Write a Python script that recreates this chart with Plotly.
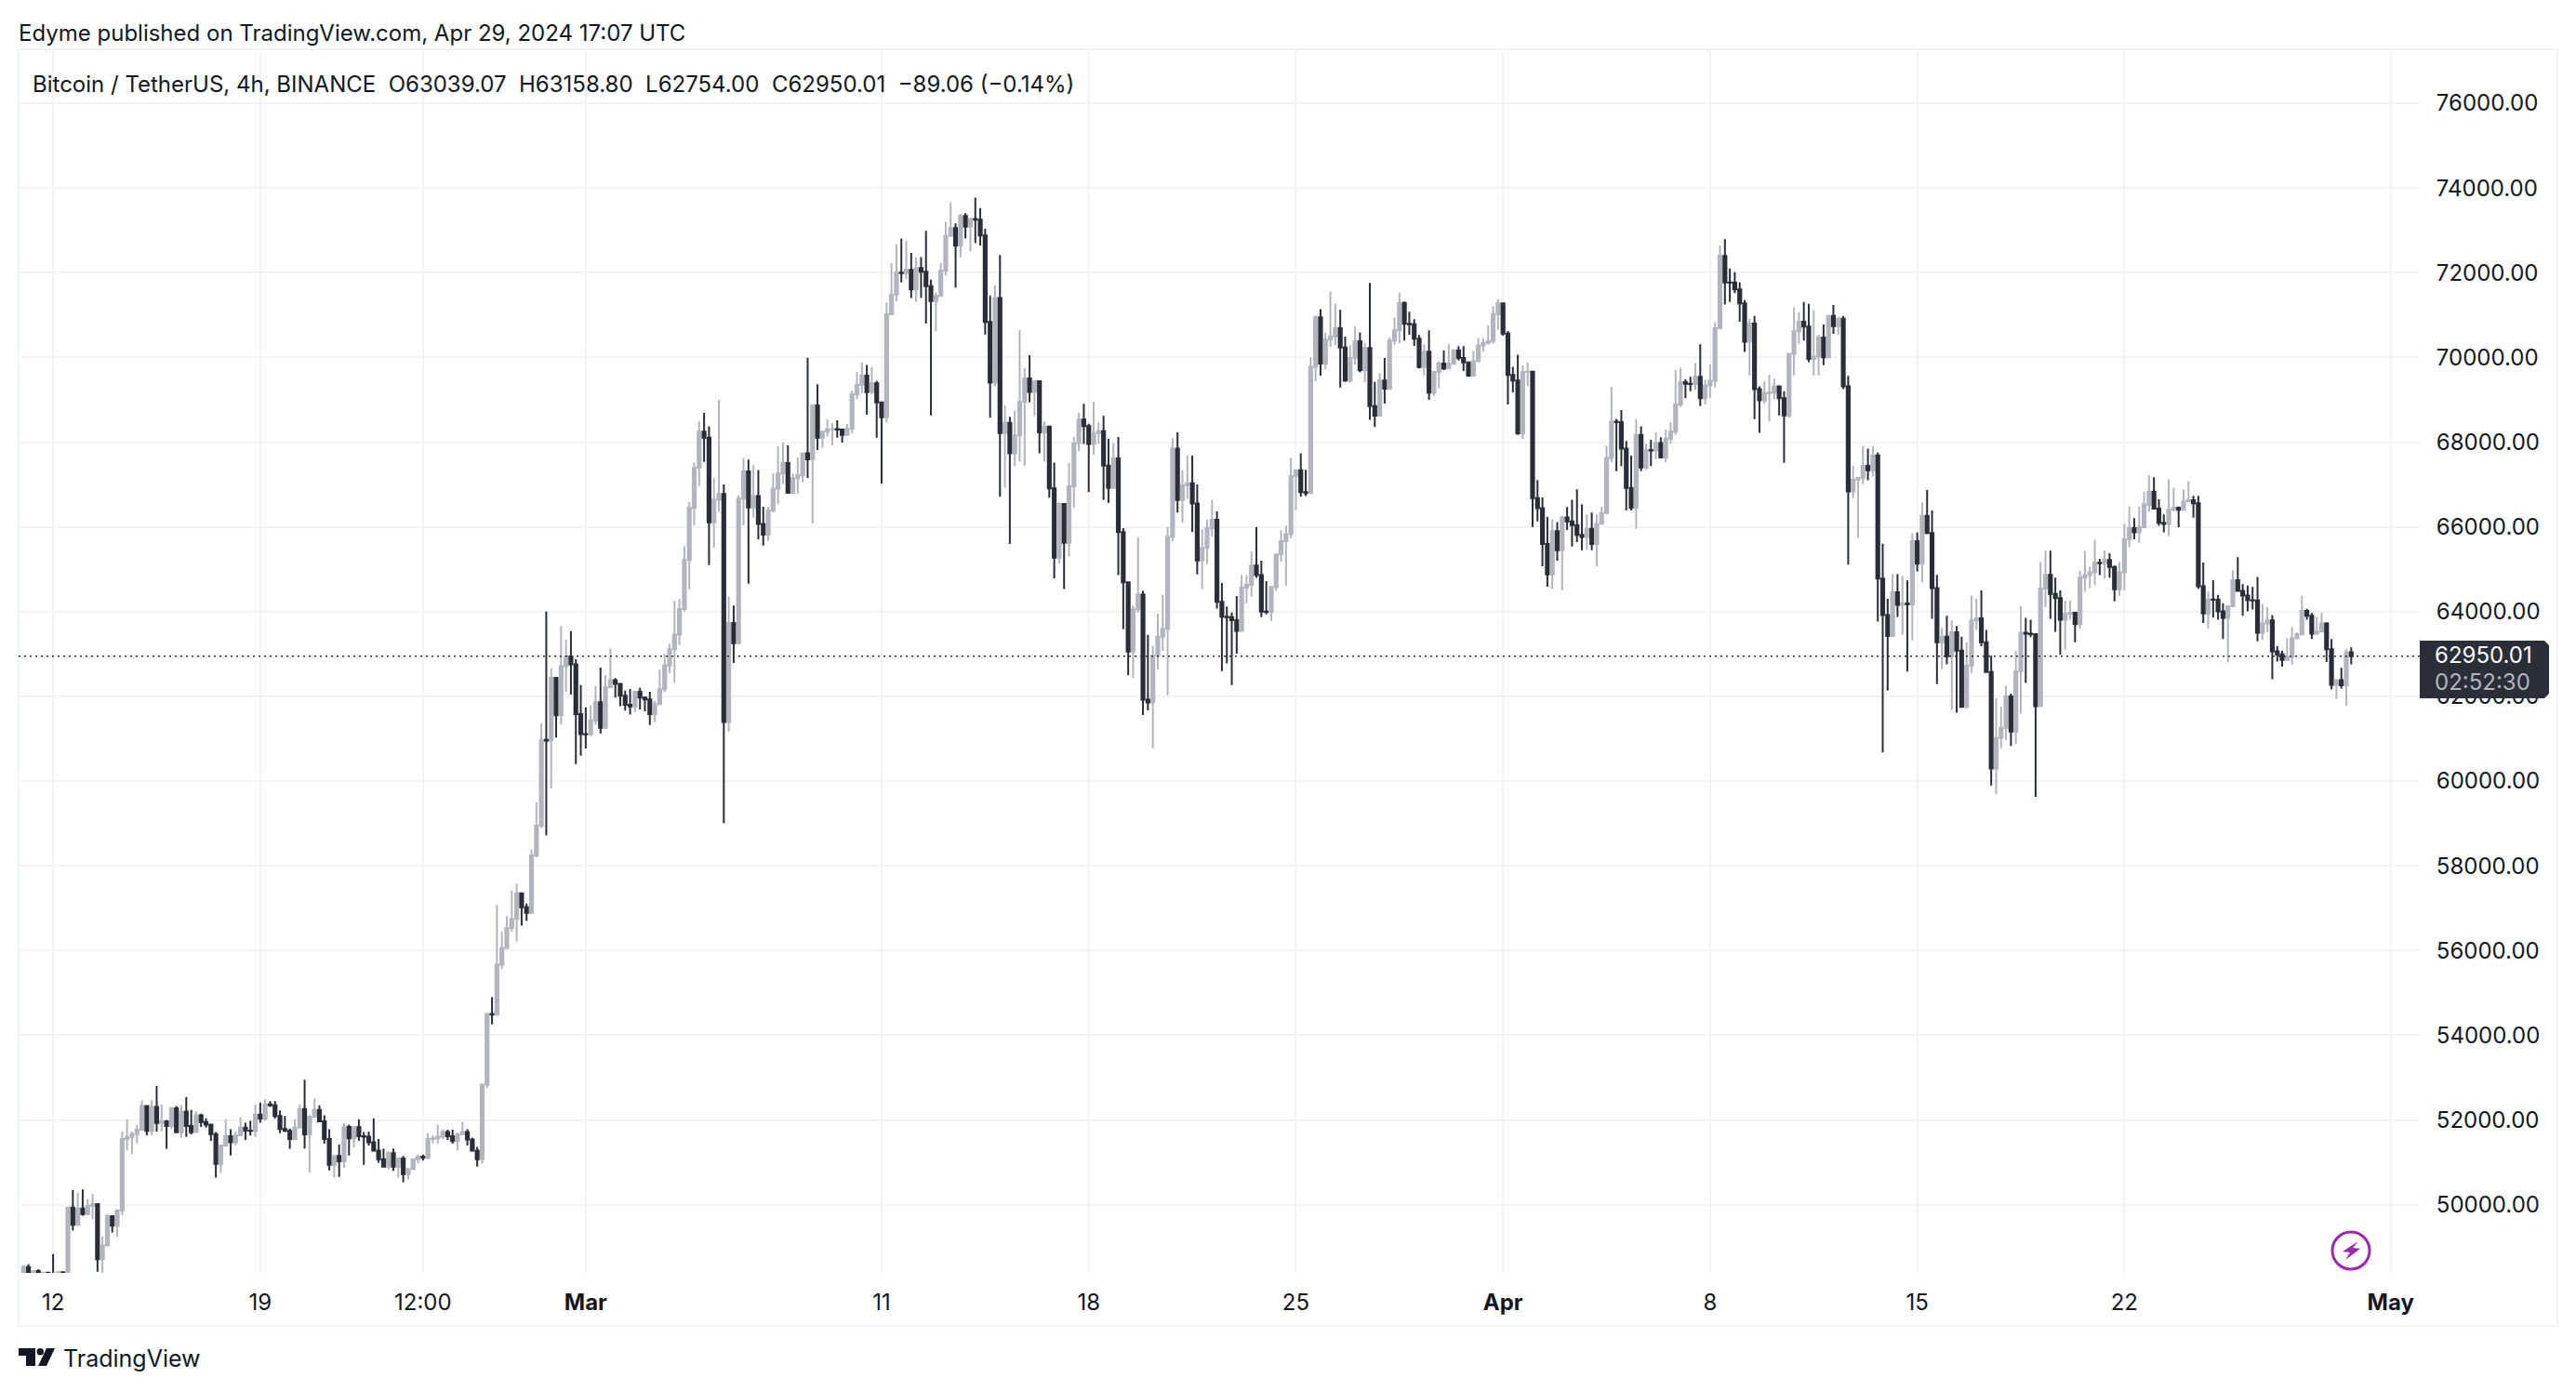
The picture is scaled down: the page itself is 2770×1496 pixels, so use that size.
import pandas as pd
import plotly.graph_objects as go

first_open = 48300
closes = [
48530,48350,48435,48300,48400,48340,48200,48410,48350,49935,
49527,49913,49780,49970,50015,48713,49040,49730,49505,49860,
51550,51600,51670,51770,52330,51745,52310,51930,51970,51860,
52275,51710,52200,51860,51715,52110,51950,51890,51670,50965,
51400,51620,51475,51640,51820,51750,51745,52130,52035,52370,
52350,52095,51790,51745,51550,51820,52260,51660,52080,52240,
51970,51550,50945,51150,51025,51840,51570,51830,51620,51605,
51475,51280,51075,50900,51220,50900,51090,50725,50845,51075,
51135,51115,51550,51570,51605,51715,51620,51510,51660,51715,
51540,51280,51075,52835,54504,54485,55668,56055,56535,56750,
57350,57025,56890,58245,58950,60970,60955,62440,61555,62710,
62940,62755,61580,61110,61105,61435,61860,61260,62220,62385,
62295,62015,61800,61765,62110,61970,61925,61580,61820,62170,
62730,63110,63460,64060,65220,66450,67390,68250,68105,66110,
66640,66780,61397,63730,63253,66670,67310,66460,66730,66070,
65815,66380,66905,67260,67505,66805,67150,67220,67740,67595,
68870,68105,68250,68300,68310,68295,68170,68320,69130,69350,
69570,69180,69390,68940,68590,71020,71485,72000,71990,72065,
71605,72110,72020,71680,71330,71450,72050,72870,73055,72640,
73340,73085,73270,73250,72880,70840,69405,71400,68215,68455,
67740,68160,68950,69505,69185,69440,68230,68370,66910,65275,
66540,65625,66960,67975,68535,68380,67955,68215,68260,67445,
66920,67615,65875,64695,63055,64055,64400,61920,61855,62965,
63410,63595,65765,67845,66635,66985,67030,66550,65210,65505,
65970,66170,64230,63880,63870,63800,63545,64565,64630,65090,
64860,64000,63990,64580,65350,65665,65830,67200,67335,66820,
66800,69780,70945,69855,70420,70490,70690,70235,69455,69985,
70380,69700,70225,68850,68625,69455,69265,70400,70640,71285,
70795,70785,70440,69775,70135,69170,69660,69855,69740,69850,
70170,69985,69885,69570,69910,70285,70345,70385,71020,71275,
70565,69585,69455,68210,69660,69665,66680,66445,65600,64880,
65900,65450,66225,66130,66040,65810,65760,65955,65600,66070,
66330,67625,68485,68475,67845,66920,66455,68170,67400,67815,
67805,67980,67640,68085,68245,68890,69415,69380,69370,69545,
69040,69340,69450,70690,72395,71770,71765,71605,71275,70370,
70800,69250,68990,69160,69170,69320,69035,68630,70085,70620,
70845,70730,69965,70020,70470,70005,70980,70740,70915,69320,
66840,67110,67155,67440,67335,67690,64780,63920,63425,64455,
64160,64195,64170,65665,65130,66260,65855,64555,63275,63410,
62945,63515,63080,61750,62720,63795,63840,63275,62575,60300,
61015,61260,62000,61170,62585,63500,63480,63470,61770,64545,
64870,64420,64320,63810,63945,63975,63705,64800,64860,64930,
65155,65145,65220,65055,64530,64930,65710,65970,65870,65990,
66525,66830,66430,66095,66070,66410,66455,66405,66600,66630,
66560,64600,63955,64285,64280,64005,63855,64125,64740,64490,
64380,64270,64262,63500,63720,63790,63065,62990,62860,62930,
63370,63465,64015,63900,63480,63530,63720,63115,62275,62385,
62260,63039.07,62950.01,
]
highs = [
48580,48600,48450,48480,48420,48390,48837,48420,48390,49950,
50350,50290,50360,50130,50260,50010,49260,49780,49750,49900,
51730,52020,51730,51880,52470,52330,52470,52810,52370,52000,
52310,52330,52350,52545,52240,52200,52150,52040,51910,51715,
51400,52020,51780,51730,52060,51935,51980,52370,52415,52490,
52445,52445,52225,52095,51800,52020,52370,52950,52120,52510,
52350,52110,51780,51150,51420,51935,51890,51840,52020,51715,
51730,52040,51550,51330,51260,51330,51105,51150,50860,51105,
51185,51185,51695,51640,51890,51770,51770,51770,51700,51950,
51780,51585,51365,52835,54504,54900,57070,56445,56815,57415,
57580,57370,57110,58385,59500,61370,64000,62660,62440,63660,
63330,63540,62875,62270,61740,61785,62250,62680,62505,63125,
62430,62295,62135,62175,62110,62200,62000,62110,61900,62630,
63000,63240,64260,64300,65545,66585,67520,68490,68690,68375,
67150,69000,67000,64350,64145,66745,67630,67590,67460,67345,
66475,66475,67260,67900,67990,67925,67260,67640,67755,69990,
68870,69365,68250,68540,68450,68515,68320,68430,69220,69660,
69880,69825,69770,69450,68940,71300,72230,72670,72805,72760,
72465,72360,72370,72990,71835,71540,72225,73195,73655,73165,
73390,73405,73285,73775,73525,73035,71465,71700,72420,68860,
68600,68740,70650,69745,70050,69460,69440,68490,68390,67520,
66590,66550,67510,68120,68695,68905,68435,68950,68480,68620,
68085,67980,68120,65970,64700,64150,65755,64490,63455,63195,
63955,64400,66000,68095,68230,67335,67680,67680,67000,65950,
66170,66640,66365,64675,64120,63980,64370,64860,64860,65415,
66000,65200,64720,64580,65350,65920,66030,67630,67340,67740,
67350,70000,70990,71140,70590,71555,71270,71120,70490,70285,
70725,70590,70345,71760,69420,69630,69985,70475,70945,71535,
71320,71080,70905,70530,70310,70640,69660,69910,70170,70310,
70180,70265,70265,69890,70150,70460,70460,70755,71210,71370,
71275,70625,69780,70065,69810,69885,69670,67105,66695,66240,
66180,66115,66265,66470,66640,66885,66530,66295,66340,66295,
66470,67920,69300,68550,68760,68030,67680,68550,68375,67965,
68055,68230,68115,68300,68470,69700,69755,69490,69545,69870,
70310,69470,69830,70830,72640,72790,72100,72010,71770,71355,
70915,70980,69320,69440,69590,69500,69320,69205,70100,71175,
71070,71310,71265,71115,70530,70775,71000,71240,70960,70980,
69565,67440,67160,67915,67845,67915,67755,65605,64305,64885,
64885,64840,64735,65845,65865,66580,66870,66390,64870,63615,
63900,63795,63660,63410,63275,64375,64305,64500,63570,62960,
61955,61750,62245,62065,63080,64125,63855,63810,63470,65170,
65440,65440,64800,64500,64260,64260,63990,64960,65425,65065,
65695,65245,65450,65380,65085,65175,66080,66480,66205,66480,
66830,67215,67170,66650,66295,67125,66920,66480,66880,67080,
66735,66735,65160,64470,64740,64395,64200,64125,64980,65285,
64650,64615,64580,64820,64175,64100,63920,63190,63080,63370,
63640,63515,64375,64065,63970,63880,63980,63750,63355,62400,
62675,63115,63158.80,
]
lows = [
48200,48200,48250,48150,48100,47900,48000,48100,48100,48340,
49390,49527,49740,49780,49660,48420,48400,49040,49345,49240,
49750,51280,51200,51450,51750,51640,51640,51730,51730,51320,
51790,51690,51585,51600,51660,51715,51840,51820,51510,50640,
50750,51370,51160,51400,51640,51530,51635,51600,51935,51985,
52310,52035,51690,51715,51320,51530,51820,51330,50770,52080,
51960,51440,50810,50640,50660,50870,51160,51350,51510,50945,
51400,51260,50990,50890,50840,50800,50640,50530,50600,50845,
50970,51040,51075,51450,51450,51550,51530,51440,51290,51660,
51400,51270,50900,50970,52760,54255,54485,55565,56055,56445,
56215,56590,56700,56890,58200,58895,58720,59820,61030,61340,
62110,62045,60400,60600,60770,61065,61325,61120,61230,62220,
61970,61770,61665,61570,61630,61690,61645,61325,61390,61820,
62100,62550,62320,63210,64000,64520,66035,66965,67535,65100,
65510,66365,59010,61165,62790,63253,66035,64660,66220,65705,
65560,65670,66350,66540,67010,66805,66770,66790,67050,67155,
66085,67815,67865,68140,67925,68105,67990,68170,68210,69015,
69160,68650,69120,68105,67020,68465,71020,71320,71770,71855,
71400,71310,71400,70800,68630,70615,71450,71930,72870,71650,
72360,72805,72500,72695,72640,70540,68575,69315,66710,66920,
65600,67440,67540,67440,68940,68620,67740,67540,66690,64785,
65135,64535,65300,66450,67790,67955,66820,67705,67955,66635,
66570,66920,64860,63585,62500,62430,63980,61560,61670,60775,
62640,63075,62020,65660,66340,66090,66660,65875,64880,64535,
65120,65765,64075,62595,62780,62270,63010,63545,64195,64350,
64795,63870,63935,63780,64490,65180,64610,65735,66400,66710,
66730,66800,69440,69570,69720,70250,70290,69290,69420,69400,
69830,69645,69415,68530,68360,68625,68910,69265,70300,70340,
70400,70535,70270,69740,69570,69000,69090,69280,69700,69740,
69830,69925,69680,69545,69570,69885,70135,70310,70325,70655,
70515,68890,69175,68170,68070,69325,66000,66130,65070,64590,
64540,65205,64500,65925,65540,65640,65450,65465,65450,65070,
66070,66330,67530,67315,67435,66390,66390,65955,67315,67340,
67435,67600,67620,67530,67960,68170,68830,69040,69205,69230,
68850,68890,69040,69290,70665,71250,71310,71520,70845,70130,
69570,68545,68220,68900,68490,69010,68630,67510,68580,69575,
70310,70400,69890,69570,69570,69815,69990,70560,70530,69250,
65110,66680,65740,67010,67100,67190,63765,60675,62135,63425,
63875,63455,62585,63320,64950,64690,65830,63830,62290,62645,
62755,61680,61615,61750,61705,62555,63570,63185,62560,59895,
59690,60775,60970,60830,60875,61590,62315,63400,59630,61770,
64105,63830,63525,62980,63095,63810,63275,63590,64465,64555,
64620,64860,64780,64800,64240,64375,64500,65515,65710,65630,
65990,66365,66420,66025,65870,65785,66365,65990,66400,66590,
66220,64540,63735,63605,63860,63810,63355,62800,64100,64470,
63900,64005,64050,63300,63335,63520,62405,62820,62700,62860,
62750,63350,63465,63810,63355,63445,63530,62810,62165,61945,
62185,61780,62754,
]
opens = [first_open] + closes[:-1]
times = pd.date_range("2024-02-11 00:00", periods=len(closes), freq="4h")

price_ticks = list(range(50000, 78000, 2000))
date_ticks = ["2024-02-12", "2024-02-19", "2024-02-24 12:00", "2024-03-01", "2024-03-11",
              "2024-03-18", "2024-03-25", "2024-04-01", "2024-04-08", "2024-04-15",
              "2024-04-22", "2024-05-01"]
date_labels = ["12", "19", "12:00", "<b>Mar</b>", "11", "18", "25", "<b>Apr</b>", "8", "15", "22", "<b>May</b>"]

header = "Edyme published on TradingView.com, Apr 29, 2024 17:07 UTC"
legend_line = "Bitcoin / TetherUS, 4h, BINANCE\u00a0\u00a0O63039.07\u00a0\u00a0H63158.80\u00a0\u00a0L62754.00\u00a0\u00a0C62950.01\u00a0\u00a0\u221289.06 (\u22120.14%)"
last_price = 62950.01
last_label = "62950.01"
countdown = "02:52:30"

W, H = 2770, 1496
L, R, T, B = 20, 2602, 54, 1369
UP, DOWN, GRID, FRAME, INK = "#b2b5be", "#2a2e39", "#f3f3f6", "#f0f3fa", "#131722"
FONT = "Inter"

def px(x):
    return (x - L) / (R - L)

def py(y):
    return 1 - (y - T) / (B - T)

def poly(pts):
    return "M" + " L".join(f"{px(a):.5f},{py(b):.5f}" for a, b in pts) + " Z"

def text(x, y, s, size, color=INK, anchor="left"):
    return dict(x=px(x), y=py(y), xref="paper", yref="paper", text=s, showarrow=False,
                xanchor=anchor, yanchor="middle", align="left",
                font=dict(family=FONT, size=size, color=color))

fig = go.Figure(go.Candlestick(
    x=times, open=opens, high=highs, low=lows, close=closes,
    increasing=dict(line=dict(color=UP, width=2), fillcolor=UP),
    decreasing=dict(line=dict(color=DOWN, width=2), fillcolor=DOWN),
    showlegend=False, hoverinfo="skip",
))

shapes = [
    dict(type="rect", xref="paper", yref="paper", x0=px(20), x1=px(2750), y0=py(53), y1=py(1426),
         line=dict(color=FRAME, width=2), layer="below"),
    dict(type="line", xref="paper", yref="y", x0=0, x1=1, y0=last_price, y1=last_price,
         line=dict(color=DOWN, width=1.5, dash="2px,4px"), layer="above"),
    dict(type="path", xref="paper", yref="paper", layer="above", fillcolor=DOWN, line=dict(width=0),
         path=poly([(2602, 689), (2736, 689), (2741, 694), (2741, 746), (2736, 751), (2602, 751)])),
    dict(type="circle", xref="paper", yref="paper", x0=px(2508), x1=px(2548), y0=py(1325), y1=py(1365),
         line=dict(color="#9c27b0", width=3), layer="above"),
    dict(type="path", xref="paper", yref="paper", layer="above", fillcolor="#9c27b0", line=dict(width=0),
         path=poly([(2536, 1335), (2519, 1346), (2527, 1347), (2522, 1355), (2538, 1343), (2530, 1342)])),
    dict(type="path", xref="paper", yref="paper", layer="above", fillcolor=INK, line=dict(width=0),
         path=poly([(20, 1450), (38, 1450), (38, 1469), (28, 1469), (28, 1458), (20, 1458)])),
    dict(type="circle", xref="paper", yref="paper", x0=px(39.5), x1=px(47), y0=py(1450), y1=py(1457.5),
         fillcolor=INK, line=dict(width=0), layer="above"),
    dict(type="path", xref="paper", yref="paper", layer="above", fillcolor=INK, line=dict(width=0),
         path=poly([(50, 1450), (59, 1450), (50, 1469), (41, 1469)])),
]

annotations = [
    text(18, 35, header, 24),
    text(33, 90, legend_line, 24),
    text(2616, 705, last_label, 24, "#ffffff"),
    text(2616, 733, countdown, 24, "#b2b5be"),
    text(66, 1461, "TradingView", 25),
]

fig.update_layout(
    width=W, height=H, autosize=False,
    margin=dict(l=L, r=W - R, t=T, b=H - B),
    paper_bgcolor="#ffffff", plot_bgcolor="#ffffff",
    font=dict(family=FONT, size=24, color=INK),
    boxgap=0.2, boxgroupgap=0.25,
    shapes=shapes, annotations=annotations,
    xaxis=dict(
        type="date", range=["2024-02-10 20:00", "2024-05-01 23:36"],
        rangeslider=dict(visible=False), tickmode="array",
        tickvals=date_ticks, ticktext=date_labels, tickangle=0,
        showgrid=True, gridcolor=GRID, gridwidth=2, zeroline=False, showline=False,
        ticks="outside", ticklen=10, tickcolor="rgba(0,0,0,0)",
        tickfont=dict(family=FONT, size=24, color=INK),
    ),
    yaxis=dict(
        side="right", range=[48392, 77251], tickmode="array",
        tickvals=price_ticks, ticktext=[f"{p:.2f}" for p in price_ticks],
        showgrid=True, gridcolor=GRID, gridwidth=2, zeroline=False, showline=False,
        ticks="outside", ticklen=12, tickcolor="rgba(0,0,0,0)",
        tickfont=dict(family=FONT, size=24, color=INK),
    ),
)

fig.write_html("out.html", config={"displayModeBar": False},
               post_script="document.body.style.margin='0';")
